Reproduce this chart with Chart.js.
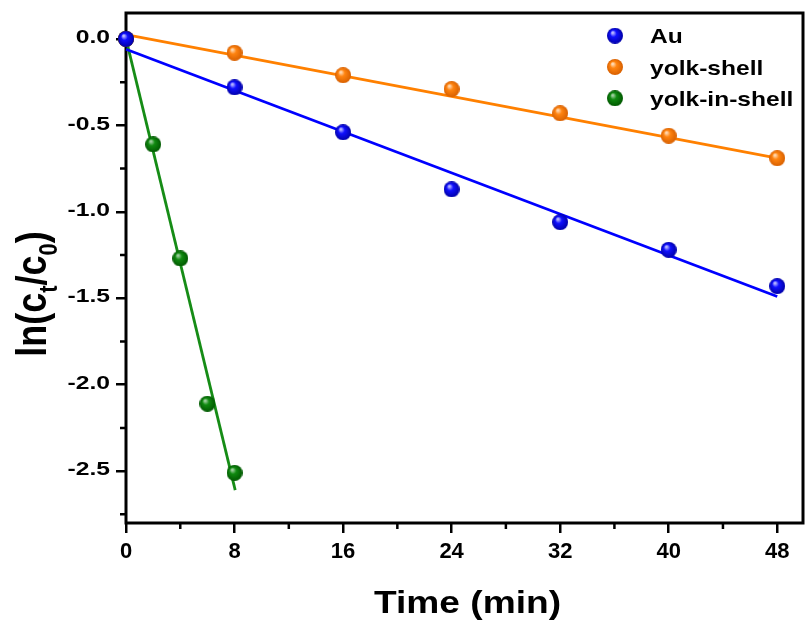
<!DOCTYPE html>
<html>
<head>
<meta charset="utf-8">
<script src="https://cdn.jsdelivr.net/npm/chart.js@4.4.0/dist/chart.umd.min.js"></script>
<style>
  html, body { margin: 0; padding: 0; background: #fff; }
</style>
</head>
<body>
<canvas id="kineticsChart" width="812" height="623"></canvas>
<script>
// measured points, ln(ct/c0) vs time (min)
var timeLong = [0, 8, 16, 24, 32, 40, 48];
var lnAu = [0, -0.28, -0.54, -0.87, -1.06, -1.22, -1.43];
var lnYolkShell = [0, -0.08, -0.21, -0.29, -0.43, -0.56, -0.69];
var timeShort = [0, 2, 4, 6, 8];
var lnYolkInShell = [0, -0.61, -1.27, -2.11, -2.51];

// linear fits (end points)
var fitTimeLong = [0, 48];
var fitAu = [-0.06, -1.49];
var fitYolkShell = [0.025, -0.69];
var fitTimeShort = [0, 8.05];
var fitYolkInShell = [0, -2.61];

var seriesNames = ['Au', 'yolk-shell', 'yolk-in-shell'];

var xTicks = [0, 8, 16, 24, 32, 40, 48];
var xMinor = [4, 12, 20, 28, 36, 44];
var yTicks = [0, -0.5, -1.0, -1.5, -2.0, -2.5];
var yTickLabels = ['0.0', '-0.5', '-1.0', '-1.5', '-2.0', '-2.5'];
var yMinor = [-0.25, -0.75, -1.25, -1.75, -2.25, -2.75];

var FONT = '"Liberation Sans", Arial, sans-serif';

function makeBall(base, light, dark) {
    var r = 8;
    var c = document.createElement('canvas');
    c.width = c.height = 2 * r;
    var g = c.getContext('2d');
    var grad = g.createRadialGradient(r * 0.7, r * 0.6, r * 0.1, r, r, r);
    grad.addColorStop(0, light);
    grad.addColorStop(0.35, base);
    grad.addColorStop(1, dark);
    g.fillStyle = grad;
    g.beginPath();
    g.arc(r, r, r, 0, Math.PI * 2);
    g.fill();
    return c;
}

var balls = [
    makeBall('#1010ff', '#b8b8ff', '#0000a8'),
    makeBall('#ff8410', '#ffd8b0', '#d86000'),
    makeBall('#108a10', '#a0d0a0', '#005800')
];
var lineColors = ['#0000ff', '#ff8000', '#168c16'];

function toPoints(xs, ys) {
    return xs.map(function(x, i) { return { x: x, y: ys[i] }; });
}

function pointSet(label, xs, ys, idx) {
    return {
        label: label,
        data: toPoints(xs, ys),
        showLine: false,
        pointStyle: balls[idx],
        pointRadius: 8,
        clip: false
    };
}

function fitSet(xs, ys, idx) {
    return {
        label: 'fit',
        data: toPoints(xs, ys),
        showLine: true,
        borderColor: lineColors[idx],
        borderWidth: 2.8,
        pointRadius: 0,
        clip: false
    };
}

// text with a little horizontal stretch, like the original figure
function stretchedText(ctx, text, x, y, sx, sy) {
    ctx.save();
    ctx.translate(x, y);
    ctx.scale(sx, sy);
    ctx.fillText(text, 0, 0);
    ctx.restore();
}

var paperPlugin = {
    id: 'paper',
    beforeDatasetsDraw: function(chart) {
        var ctx = chart.ctx, a = chart.chartArea;
        var xs = chart.scales.x, ys = chart.scales.y;
        ctx.save();
        ctx.strokeStyle = '#000';
        ctx.lineWidth = 3;
        ctx.strokeRect(a.left, a.top, a.right - a.left, a.bottom - a.top);
        ctx.lineWidth = 2.5;
        ctx.beginPath();
        xMinor.forEach(function(v) {
            var px = xs.getPixelForValue(v);
            ctx.moveTo(px, a.bottom);
            ctx.lineTo(px, a.bottom + 6);
        });
        yMinor.forEach(function(v) {
            var py = ys.getPixelForValue(v);
            ctx.moveTo(a.left, py);
            ctx.lineTo(a.left - 6, py);
        });
        ctx.stroke();
        ctx.restore();
    },
    afterDraw: function(chart) {
        var ctx = chart.ctx, a = chart.chartArea;
        var ys = chart.scales.y;
        ctx.save();
        ctx.fillStyle = '#000';

        // y tick labels
        ctx.font = 'bold 19px ' + FONT;
        ctx.textAlign = 'right';
        ctx.textBaseline = 'middle';
        yTicks.forEach(function(v, i) {
            stretchedText(ctx, yTickLabels[i], a.left - 16, ys.getPixelForValue(v) - 1, 1.3, 1);
        });

        // x title
        ctx.textAlign = 'center';
        ctx.textBaseline = 'alphabetic';
        ctx.font = 'bold 32px ' + FONT;
        stretchedText(ctx, 'Time (min)', (a.left + a.right) / 2 + 3, 613, 1.16, 1);

        // y title: ln(c_t/c_0)
        var big = 'bold 36px ' + FONT, small = 'bold 22px ' + FONT;
        var parts = [['ln(c', big, 0], ['t', small, 9], ['/c', big, 0], ['0', small, 9], [')', big, 0]];
        var total = 0;
        parts.forEach(function(p) { ctx.font = p[1]; p.push(ctx.measureText(p[0]).width); total += p[3]; });
        ctx.save();
        ctx.translate(46, (a.top + a.bottom) / 2 + 26);
        ctx.rotate(-Math.PI / 2);
        ctx.scale(1, 1.2);
        ctx.textAlign = 'left';
        var cx = -total / 2;
        parts.forEach(function(p) {
            ctx.font = p[1];
            ctx.fillText(p[0], cx, p[2]);
            cx += p[3];
        });
        ctx.restore();

        // legend
        ctx.textAlign = 'left';
        ctx.font = 'bold 21px ' + FONT;
        seriesNames.forEach(function(name, i) {
            var cy = 35.7 + 31.3 * i;
            ctx.drawImage(balls[i], 615 - 8, cy - 8);
            stretchedText(ctx, name, 650, cy + 7.6, 1.17, 1);
        });
        ctx.restore();
    }
};

var ctx = document.getElementById('kineticsChart').getContext('2d');
var chart = new Chart(ctx, {
    type: 'scatter',
    data: {
        datasets: [
            pointSet(seriesNames[0], timeLong, lnAu, 0),
            pointSet(seriesNames[1], timeLong, lnYolkShell, 1),
            pointSet(seriesNames[2], timeShort, lnYolkInShell, 2),
            fitSet(fitTimeLong, fitAu, 0),
            fitSet(fitTimeLong, fitYolkShell, 1),
            fitSet(fitTimeShort, fitYolkInShell, 2)
        ]
    },
    options: {
        responsive: false,
        animation: false,
        layout: { padding: { top: 13, right: 5, left: 0, bottom: 0 } },
        plugins: {
            legend: { display: false },
            tooltip: { enabled: false }
        },
        scales: {
            x: {
                type: 'linear',
                min: 0,
                max: 49.9,
                afterBuildTicks: function(scale) {
                    scale.ticks = xTicks.map(function(v) { return { value: v }; });
                },
                afterFit: function(scale) { scale.height = 100; },
                border: { display: false },
                grid: { drawOnChartArea: false, drawTicks: true, tickLength: 10, color: '#000', lineWidth: 2.5 },
                ticks: {
                    color: '#000',
                    padding: 6,
                    maxRotation: 0,
                    font: { family: FONT, size: 22, weight: 'bold' }
                }
            },
            y: {
                type: 'linear',
                min: -2.8,
                max: 0.15,
                afterBuildTicks: function(scale) {
                    scale.ticks = yTicks.map(function(v) { return { value: v }; });
                },
                afterFit: function(scale) { scale.width = 126; },
                border: { display: false },
                grid: { drawOnChartArea: false, drawTicks: true, tickLength: 10, color: '#000', lineWidth: 2.5 },
                ticks: { display: false }
            }
        }
    },
    plugins: [paperPlugin]
});
</script>
</body>
</html>
